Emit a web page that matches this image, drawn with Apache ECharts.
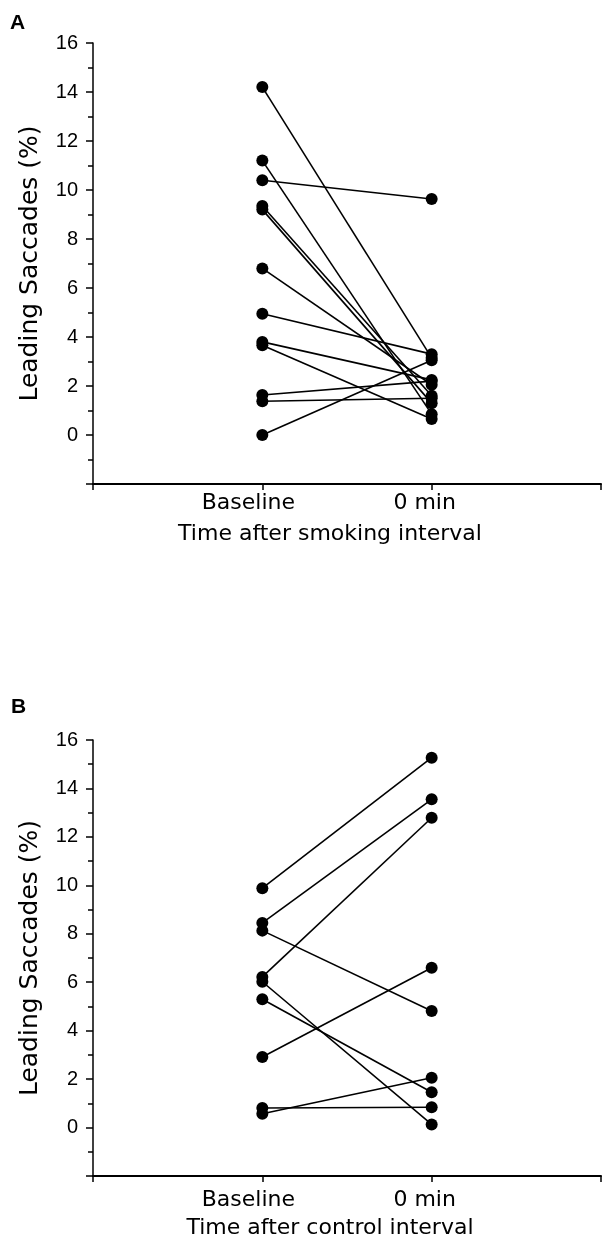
<!DOCTYPE html>
<html>
<head>
<meta charset="utf-8">
<script src="https://cdn.jsdelivr.net/npm/echarts@6/dist/echarts.min.js"></script>
<style>
html,body{margin:0;padding:0;background:#fff;}
#chart{width:604px;height:1240px;}
</style>
</head>
<body>
<div id="chart"></div>
<script>
// Panel A: smoking interval
var baselineA = [14.2, 11.2, 10.4, 9.35, 9.2, 6.8, 4.95, 3.8, 3.66, 1.63, 1.38, 0.0];
var zeroMinA  = [3.15, 0.85, 9.63, 1.6, 1.3, 2.05, 3.3, 2.25, 0.65, 2.2, 1.5, 3.05];
// Panel B: control interval
var baselineB = [9.88, 8.45, 6.22, 8.13, 2.91, 5.3, 6.02, 0.81, 0.57];
var zeroMinB  = [15.27, 13.55, 12.79, 4.81, 6.6, 1.46, 0.13, 0.84, 2.06];

var xPositions = [0, 1, 2, 3];
var xTickLabels = ['', 'Baseline', '0 min', ''];
var yTicks = [-2, 0, 2, 4, 6, 8, 10, 12, 14, 16];
var panelLetters = ['A', 'B'];
var xTitles = ['Time after smoking interval', 'Time after control interval'];
var yTitle = 'Leading Saccades (%)';

var chart = echarts.init(document.getElementById('chart'), null, {renderer: 'canvas'});

var wordFont = 'DejaVu Sans';
var numFont = 'Liberation Sans';
var labelMargins = [8, 13];
var titleGaps = [39, 41];

function makeX(gi) {
  return {
    type: 'value', gridIndex: gi,
    min: xPositions[0], max: xPositions[xPositions.length - 1], interval: 1,
    splitLine: {show: false},
    axisLine: {onZero: false, lineStyle: {color: '#000', width: 2}},
    axisTick: {show: true, inside: false, length: 6, lineStyle: {color: '#000', width: 1.5}},
    axisLabel: {
      margin: labelMargins[gi],
      formatter: function (v) {
        var idx = xPositions.indexOf(v);
        var t = idx >= 0 ? xTickLabels[idx] : '';
        if (!t) return '';
        return (idx === 1 ? '{b|' : '{m|') + t + '}';
      },
      rich: {
        b: {fontFamily: wordFont, fontSize: 22, color: '#000', padding: [0, 28, 0, 0]},
        m: {fontFamily: wordFont, fontSize: 22, color: '#000', padding: [0, 14, 0, 0]}
      }
    },
    name: xTitles[gi], nameLocation: 'middle', nameGap: titleGaps[gi],
    nameTextStyle: {fontFamily: wordFont, fontSize: 22, color: '#000', padding: [0, 34, 0, 0]}
  };
}
function makeY(gi) {
  return {
    type: 'value', gridIndex: gi,
    min: yTicks[0], max: yTicks[yTicks.length - 1], interval: 2,
    splitLine: {show: false},
    axisLine: {onZero: false, lineStyle: {color: '#000', width: 1.5}},
    axisTick: {show: true, inside: false, length: 7, lineStyle: {color: '#000', width: 1.5}},
    minorTick: {show: true, splitNumber: 2, length: 5, lineStyle: {color: '#000', width: 1.5}},
    axisLabel: {
      margin: 15, fontFamily: numFont, fontSize: 20, color: '#000',
      formatter: function (v) { return v < 0 ? '' : String(v); }
    },
    name: yTitle, nameLocation: 'middle', nameGap: 50, nameRotate: 90,
    nameTextStyle: {fontFamily: wordFont, fontSize: 25, color: '#000'}
  };
}

function pairSeries(base, zero, gi) {
  var out = [];
  for (var i = 0; i < base.length; i++) {
    out.push({
      type: 'line', xAxisIndex: gi, yAxisIndex: gi,
      data: [[xPositions[1], base[i]], [xPositions[2], zero[i]]],
      symbol: 'circle', symbolSize: 12,
      itemStyle: {color: '#000'},
      lineStyle: {color: '#000', width: 1.6},
      silent: true, animation: false
    });
  }
  return out;
}

var option = {
  backgroundColor: '#fff',
  animation: false,
  grid: [
    {left: 93, right: 3, top: 43, height: 441},
    {left: 93, right: 3, top: 740, height: 439}
  ],
  xAxis: [makeX(0), makeX(1)],
  yAxis: [makeY(0), makeY(1)],
  graphic: [
    {type: 'text', left: 10, top: 13, style: {text: panelLetters[0], fontFamily: numFont, fontSize: 21, fontWeight: 'bold', fill: '#000'}},
    {type: 'text', left: 11, top: 697, style: {text: panelLetters[1], fontFamily: numFont, fontSize: 21, fontWeight: 'bold', fill: '#000'}}
  ],
  series: pairSeries(baselineA, zeroMinA, 0).concat(pairSeries(baselineB, zeroMinB, 1))
};
chart.setOption(option);
</script>
</body>
</html>
